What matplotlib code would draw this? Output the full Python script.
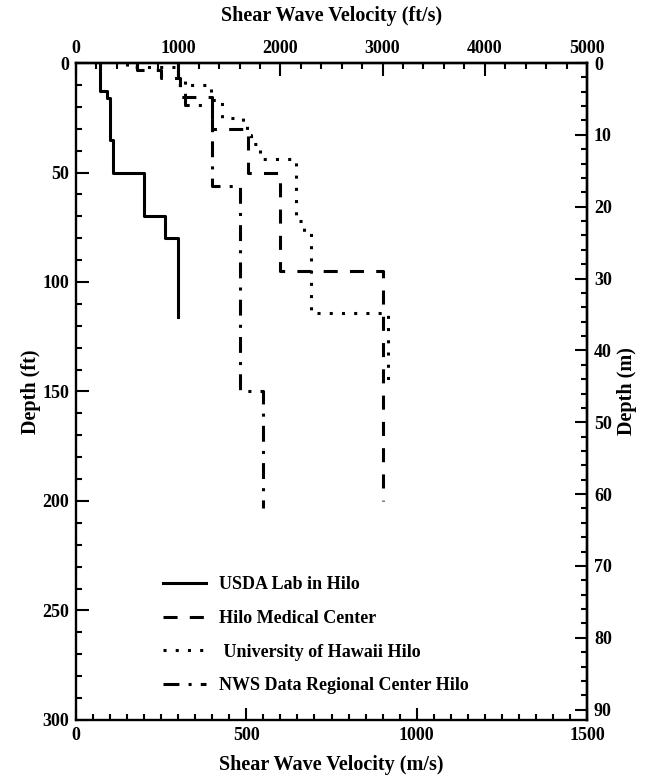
import numpy as np
import matplotlib.pyplot as plt
from matplotlib.ticker import MultipleLocator, FixedLocator

plt.rcParams['font.family'] = 'Liberation Serif'
plt.rcParams['font.weight'] = 'bold'
plt.rcParams['axes.labelweight'] = 'bold'

# layer boundaries (ft) and shear wave velocity of each layer (m/s)
usda_depth = [0, 13, 16, 35, 50, 70, 80, 116]
usda_vs = [70, 90, 100, 110, 200, 260, 300]

hmc_depth = [0, 3, 7, 15.5, 30, 50, 95, 200]
hmc_vs = [180, 250, 305, 400, 505, 600, 900]

uhh_depth = [0, 2, 10, 17, 25, 28, 33, 37, 44, 72, 77, 114, 145]
uhh_vs = [150, 300, 395, 430, 490, 502, 515, 540, 645, 670, 690, 915]

nws_depth = [0, 7, 19, 56, 150, 203]
nws_vs = [300, 320, 400, 480, 550]

labels = ['USDA Lab in Hilo', 'Hilo Medical Center',
          ' University of Hawaii Hilo', 'NWS Data Regional Center Hilo']


def profile(depth, vs):
    # vertical segment for every layer, joined by horizontal steps
    d = np.array(depth, dtype=float)
    x = np.repeat(vs, 2)
    y = np.column_stack([d[:-1], d[1:]]).ravel()
    return x, y


fig = plt.figure(figsize=(6.54, 7.78), dpi=100)
ax = fig.add_axes([0.1162, 0.0746, 0.7814, 0.8444])

lw = 2.2
styles = ['-', (0, (4.6, 4)), (0, (1, 3)), (0, (5.2, 3, 1, 3))]
for (dep, vs), ls, lab in zip([(usda_depth, usda_vs), (hmc_depth, hmc_vs),
                               (uhh_depth, uhh_vs), (nws_depth, nws_vs)],
                              styles, labels):
    x, y = profile(dep, vs)
    ax.plot(x, y, color='black', lw=lw, linestyle=ls, label=lab)

ax.set_xlim(0, 1500)
ax.set_ylim(300, 0)
ax.set_xlabel('Shear Wave Velocity (m/s)', fontsize=14.5, labelpad=8)
ax.set_ylabel('Depth (ft)', fontsize=14.5, labelpad=1)
ax.xaxis.set_major_locator(MultipleLocator(500))
ax.xaxis.set_minor_locator(MultipleLocator(50))
ax.yaxis.set_major_locator(MultipleLocator(50))
ax.yaxis.set_minor_locator(MultipleLocator(10))

for s in ax.spines.values():
    s.set_linewidth(1.7)

top = ax.secondary_xaxis('top', functions=(lambda v: v * 5000 / 1500,
                                           lambda v: v * 1500 / 5000))
top.set_xlabel('Shear Wave Velocity (ft/s)', fontsize=14.5, labelpad=14)
top.xaxis.set_major_locator(FixedLocator([0, 1000, 2000, 3000, 4000, 5000]))
top.xaxis.set_minor_locator(FixedLocator(np.arange(0, 5001, 200)))

right = ax.secondary_yaxis('right', functions=(lambda d: d * 0.3048,
                                               lambda d: d / 0.3048))
right.set_ylabel('Depth (m)', fontsize=14.5, labelpad=4)
right.yaxis.set_major_locator(FixedLocator(np.arange(0, 91, 10)))
right.yaxis.set_minor_locator(FixedLocator(np.arange(0, 91, 2)))

for a in [ax, top, right]:
    a.tick_params(which='major', direction='in', length=9, width=1.5,
                  labelsize=13, pad=5)
    a.tick_params(which='minor', direction='in', length=4.5, width=1.5)
    for t in a.get_xticklabels() + a.get_yticklabels():
        t.set_fontweight('bold')
top.tick_params(which='major', pad=4)
top.spines['top'].set_linewidth(1.7)
right.spines['right'].set_linewidth(1.7)

leg = ax.legend(loc='upper left', bbox_to_anchor=(0.17, 0.219),
                frameon=False, fontsize=13, handlelength=2.4,
                handletextpad=0.7, labelspacing=0.93,
                borderpad=0, borderaxespad=0)
for t in leg.get_texts():
    t.set_fontweight('bold')

fig.savefig('out.png', dpi=100)
